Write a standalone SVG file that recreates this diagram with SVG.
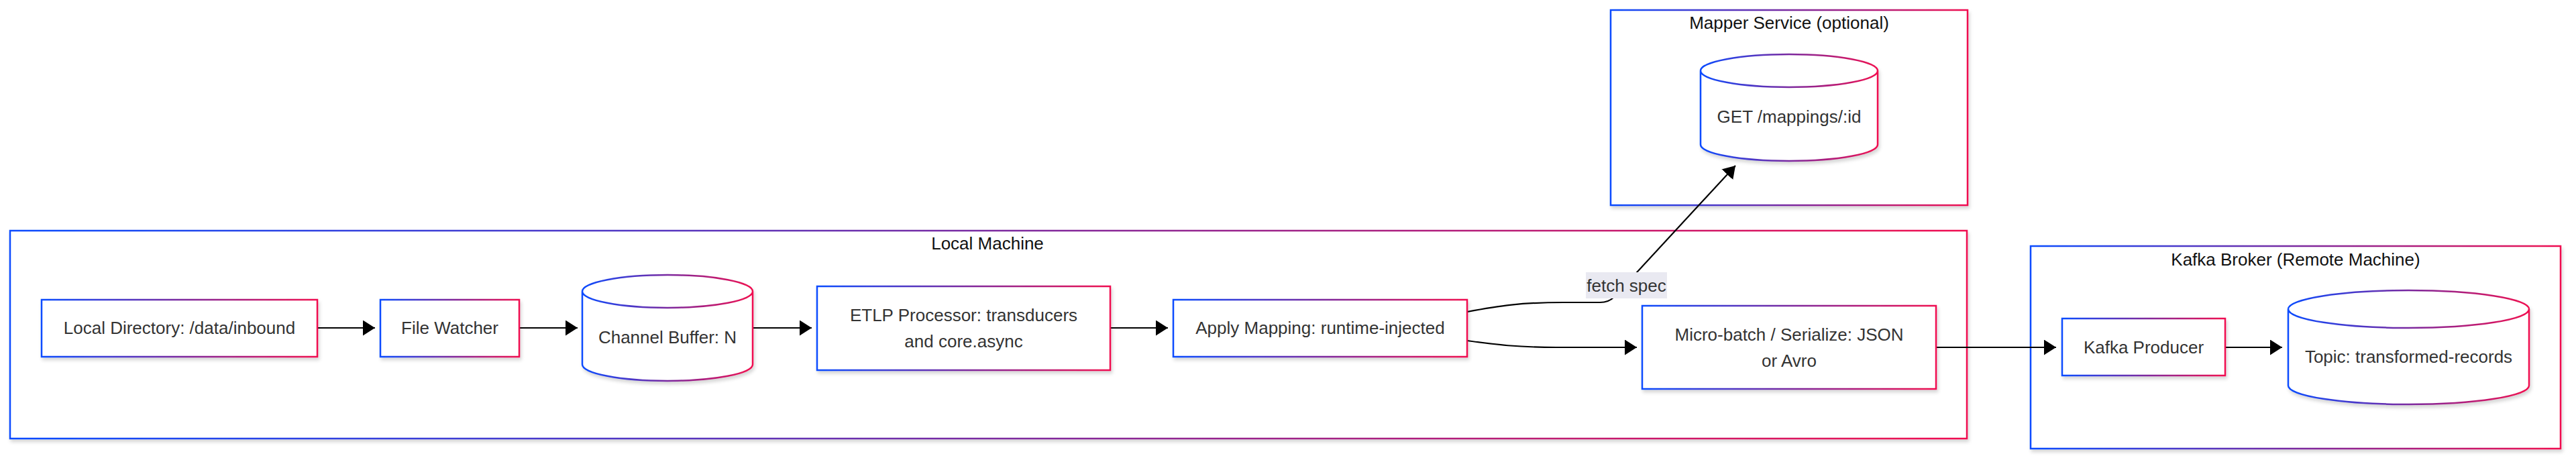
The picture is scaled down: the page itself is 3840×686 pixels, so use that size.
<svg xmlns="http://www.w3.org/2000/svg" width="3840" height="686" viewBox="0 0 3840 686">
<defs>
<linearGradient id="g" x1="0" y1="0" x2="1" y2="0">
<stop offset="0" stop-color="#0a4bff"/>
<stop offset="0.5" stop-color="#7a2aa0"/>
<stop offset="1" stop-color="#f01050"/>
</linearGradient>
<filter id="sh" x="-10%" y="-10%" width="120%" height="130%">
<feDropShadow dx="2" dy="4" stdDeviation="2.5" flood-color="#000" flood-opacity="0.16"/>
</filter>
<marker id="ah" viewBox="0 0 18 23" refX="18" refY="11.5" markerWidth="18" markerHeight="23" markerUnits="userSpaceOnUse" orient="auto">
<path d="M0,0 L18,11.5 L0,23 z" fill="#000"/>
</marker>
</defs>
<style>
.cl{fill:#fff;stroke:url(#g);stroke-width:2.5;filter:url(#sh)}
.nd{fill:#fff;stroke:url(#g);stroke-width:2.5;filter:url(#sh)}
.t{font-family:"Liberation Sans",Arial,sans-serif;font-size:26px;fill:#333;text-anchor:middle}
.ct{font-family:"Liberation Sans",Arial,sans-serif;font-size:26px;fill:#111;text-anchor:middle}
.e{fill:none;stroke:#000;stroke-width:2.2}
</style>
<rect width="3840" height="686" fill="#fff"/>
<g id="cluster-local">
<rect class="cl" x="15" y="344" width="2917" height="310"/>
<text class="ct" x="1472" y="372">Local Machine</text>
</g>
<g id="cluster-mapper">
<rect class="cl" x="2401" y="15" width="532" height="291"/>
<text class="ct" x="2667" y="43">Mapper Service (optional)</text>
</g>
<g id="cluster-kafka">
<rect class="cl" x="3027" y="367" width="790" height="302"/>
<text class="ct" x="3422" y="396">Kafka Broker (Remote Machine)</text>
</g>
<g id="edges">
<path class="e" d="M473,489 L559,489" marker-end="url(#ah)"/>
<path class="e" d="M774,489 L861,489" marker-end="url(#ah)"/>
<path class="e" d="M1122,489 L1210,489" marker-end="url(#ah)"/>
<path class="e" d="M1655,489 L1741,489" marker-end="url(#ah)"/>
<path class="e" d="M2187,508 C2230,514 2262,518 2320,518 L2440,518" marker-end="url(#ah)"/>
<path class="e" d="M2187,465 C2235,456 2268,451 2330,451 L2385,451 Q2398,451 2406,443 L2587,247" marker-end="url(#ah)"/>
<path class="e" d="M2886,518 L3065,518" marker-end="url(#ah)"/>
<path class="e" d="M3317,518 L3402,518" marker-end="url(#ah)"/>
<rect x="2364" y="406" width="121" height="39" fill="#e9e9f1"/>
<text class="t" x="2424.5" y="435">fetch spec</text>
</g>
<g id="local-dir">
<rect class="nd" x="62" y="447" width="411" height="85"/>
<text class="t" x="267.5" y="498">Local Directory: /data/inbound</text>
</g>
<g id="file-watcher">
<rect class="nd" x="567" y="447" width="207" height="85"/>
<text class="t" x="670.5" y="498">File Watcher</text>
</g>
<g id="channel-buffer">
<path class="nd" d="M868,434.5 a127,24.5 0 0 0 254,0 a127,24.5 0 0 0 -254,0 l0,109 a127,24.5 0 0 0 254,0 l0,-109"/>
<text class="t" x="995" y="512">Channel Buffer: N</text>
</g>
<g id="etlp">
<rect class="nd" x="1218" y="427" width="437" height="125"/>
<text class="t" x="1436.5" y="479">ETLP Processor: transducers</text>
<text class="t" x="1436.5" y="518">and core.async</text>
</g>
<g id="apply-mapping">
<rect class="nd" x="1749" y="447" width="438" height="85"/>
<text class="t" x="1968" y="498">Apply Mapping: runtime-injected</text>
</g>
<g id="micro-batch">
<rect class="nd" x="2448" y="456" width="438" height="124"/>
<text class="t" x="2667" y="507.5">Micro-batch / Serialize: JSON</text>
<text class="t" x="2667" y="546.5">or Avro</text>
</g>
<g id="mapper-get">
<path class="nd" d="M2535,105.5 a132,24.5 0 0 0 264,0 a132,24.5 0 0 0 -264,0 l0,110 a132,24.5 0 0 0 264,0 l0,-110"/>
<text class="t" x="2667" y="183">GET /mappings/:id</text>
</g>
<g id="kafka-producer">
<rect class="nd" x="3074" y="475" width="243" height="85"/>
<text class="t" x="3195.5" y="527">Kafka Producer</text>
</g>
<g id="topic">
<path class="nd" d="M3411,461 a179.5,28 0 0 0 359,0 a179.5,28 0 0 0 -359,0 l0,114 a179.5,28 0 0 0 359,0 l0,-114"/>
<text class="t" x="3590.5" y="541">Topic: transformed-records</text>
</g>
</svg>
